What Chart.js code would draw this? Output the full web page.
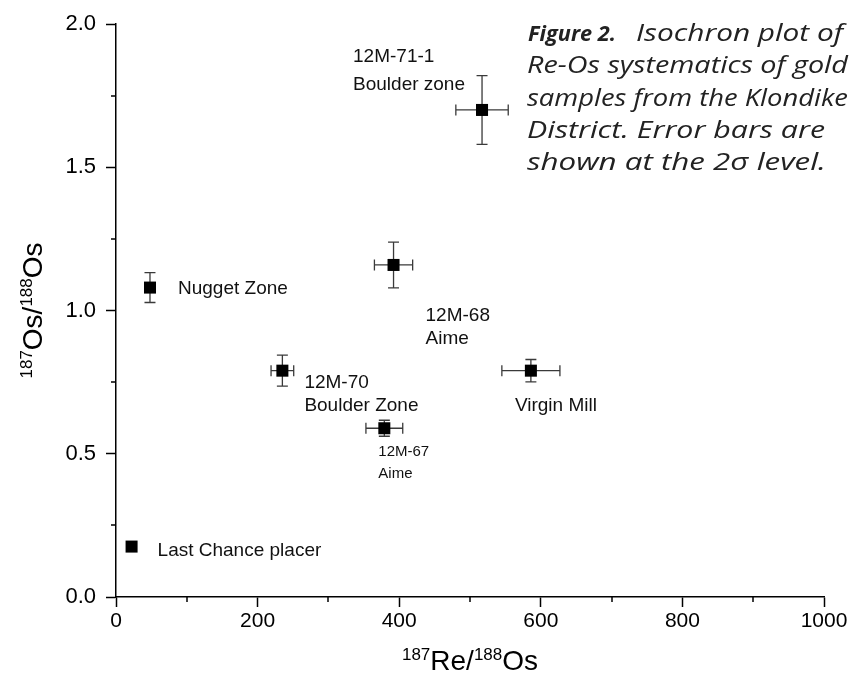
<!DOCTYPE html>
<html><head><meta charset="utf-8">
<script src="https://cdn.jsdelivr.net/npm/chart.js@4.4.0/dist/chart.umd.min.js"></script>
<style>
html,body{margin:0;padding:0;background:#fff;}
#wrap{position:relative;width:853px;height:689px;overflow:hidden;}
#c{position:absolute;left:0;top:0;}
#caption{position:absolute;left:0;top:16px;width:853px;font-family:"Open Sans",sans-serif;font-style:italic;font-size:24px;line-height:32.3px;color:#222;white-space:nowrap;}
#caption .ln{position:relative;height:32.3px;}
#caption .pc{position:absolute;top:0;display:inline-block;transform-origin:0 50%;}
#caption .bd{font-weight:700;font-size:22px;}
</style></head><body>
<div id="wrap"><canvas id="c" width="853" height="689" style="width:853px;height:689px"></canvas>
<div id="caption">
<div class="ln"><span class="pc bd" data-l="528" data-w="88">Figure 2.</span><span class="pc" data-l="636" data-w="207">Isochron plot of</span></div>
<div class="ln"><span class="pc" data-l="527" data-w="321">Re-Os systematics of gold</span></div>
<div class="ln"><span class="pc" data-l="527" data-w="321">samples from the Klondike</span></div>
<div class="ln"><span class="pc" data-l="527" data-w="298">District. Error bars are</span></div>
<div class="ln"><span class="pc" data-l="527" data-w="299">shown at the 2σ level.</span></div>
</div></div>
<script>
// ---- data ----
const samples = ['Last Chance placer','Nugget Zone','12M-70','12M-67','12M-68','12M-71-1','Virgin Mill'];
const reOs    = [22, 48, 235, 379, 392, 517, 586];                 // 187Re/188Os
const osOs    = [0.176, 1.080, 0.790, 0.589, 1.159, 1.700, 0.790]; // 187Os/188Os
const reErr   = [0, 0, 16, 26, 27, 37, 41];                        // 2σ on x
const osErr   = [0, 0.052, 0.054, 0.028, 0.080, 0.120, 0.039];     // 2σ on y
const labelLines = [
  ['Last Chance placer'],
  ['Nugget Zone'],
  ['12M-70','Boulder Zone'],
  ['12M-67','Aime'],
  ['12M-68','Aime'],
  ['12M-71-1','Boulder zone'],
  ['Virgin Mill']
];
const xTicks = [0,200,400,600,800,1000];
const yTicks = [0.0,0.5,1.0,1.5,2.0];
const xMinor = [100,300,500,700,900];
const yMinor = [0.25,0.75,1.25,1.75];

// ---- styles ----
const FONT = '"Liberation Sans", Arial, sans-serif';
const labelStyle = [
  {dx:26, dy:4,  size:19, lh:23},
  {dx:28, dy:1,  size:19, lh:23},
  {dx:22, dy:12, size:19, lh:23},
  {dx:-6, dy:24, size:15, lh:22},
  {dx:32, dy:51, size:19, lh:23},
  {dx:-129, dy:-53, size:19, lh:28},
  {dx:-16, dy:35, size:19, lh:23}
];

// fit caption pieces to their extents in the reference
document.querySelectorAll('#caption .pc').forEach(el=>{
  const w = el.getBoundingClientRect().width;
  el.style.left = el.dataset.l + 'px';
  el.style.transform = 'scaleX(' + (Number(el.dataset.w) / w).toFixed(4) + ')';
});

const points = reOs.map((v,i)=>({x:v, y:osOs[i]}));

const errorBars = {
  id:'errorBars',
  beforeDatasetsDraw(chart){
    const {ctx, scales:{x, y}} = chart;
    ctx.save();
    ctx.strokeStyle = '#3a3a3a';
    ctx.lineWidth = 1.3;
    const cap = 5.5;
    for (let i=0;i<reOs.length;i++){
      const px = x.getPixelForValue(reOs[i]);
      const py = y.getPixelForValue(osOs[i]);
      ctx.beginPath();
      if (osErr[i] > 0){
        const t = y.getPixelForValue(osOs[i]+osErr[i]);
        const b = y.getPixelForValue(osOs[i]-osErr[i]);
        ctx.moveTo(px, t); ctx.lineTo(px, b);
        ctx.moveTo(px-cap, t); ctx.lineTo(px+cap, t);
        ctx.moveTo(px-cap, b); ctx.lineTo(px+cap, b);
      }
      if (reErr[i] > 0){
        const l = x.getPixelForValue(reOs[i]-reErr[i]);
        const r = x.getPixelForValue(reOs[i]+reErr[i]);
        ctx.moveTo(l, py); ctx.lineTo(r, py);
        ctx.moveTo(l, py-cap); ctx.lineTo(l, py+cap);
        ctx.moveTo(r, py-cap); ctx.lineTo(r, py+cap);
      }
      ctx.stroke();
    }
    ctx.restore();
  }
};

const pointLabels = {
  id:'pointLabels',
  afterDatasetsDraw(chart){
    const {ctx, scales:{x, y}} = chart;
    ctx.save();
    ctx.fillStyle = '#111';
    ctx.textAlign = 'left';
    ctx.textBaseline = 'middle';
    for (let i=0;i<samples.length;i++){
      const st = labelStyle[i];
      const px = x.getPixelForValue(reOs[i]);
      const py = y.getPixelForValue(osOs[i]);
      ctx.font = st.size + 'px ' + FONT;
      labelLines[i].forEach((t,k)=>{
        ctx.fillText(t, px+st.dx, py+st.dy+k*st.lh);
      });
    }
    ctx.restore();
  }
};

function drawSup(ctx, parts, bigSize, supSize, supRise){
  let w = 0;
  parts.forEach(p=>{
    ctx.font = (p.sup?supSize:bigSize)+'px '+FONT;
    p.w = ctx.measureText(p.t).width; w += p.w;
  });
  let cx = -w/2;
  parts.forEach(p=>{
    ctx.font = (p.sup?supSize:bigSize)+'px '+FONT;
    ctx.fillText(p.t, cx, p.sup ? -supRise : 0);
    cx += p.w;
  });
}

const axisExtras = {
  id:'axisExtras',
  afterDraw(chart){
    const {ctx, scales:{x, y}, chartArea} = chart;
    ctx.save();
    ctx.strokeStyle = '#000';
    ctx.lineWidth = 1.5;
    ctx.beginPath();
    xMinor.forEach(v=>{
      const px = Math.round(x.getPixelForValue(v));
      ctx.moveTo(px, chartArea.bottom); ctx.lineTo(px, chartArea.bottom+5);
    });
    yMinor.forEach(v=>{
      const py = Math.round(y.getPixelForValue(v));
      ctx.moveTo(chartArea.left, py); ctx.lineTo(chartArea.left-5, py);
    });
    ctx.stroke();

    ctx.fillStyle = '#000';
    ctx.textBaseline = 'alphabetic';
    ctx.textAlign = 'left';
    ctx.save();
    ctx.translate((chartArea.left+chartArea.right)/2, 670);
    drawSup(ctx, [{t:'187',sup:true},{t:'Re/',sup:false},{t:'188',sup:true},{t:'Os',sup:false}], 28, 17, 10);
    ctx.restore();
    ctx.save();
    ctx.translate(42, (chartArea.top+chartArea.bottom)/2);
    ctx.rotate(-Math.PI/2);
    drawSup(ctx, [{t:'187',sup:true},{t:'Os/',sup:false},{t:'188',sup:true},{t:'Os',sup:false}], 28, 17, 10);
    ctx.restore();
    ctx.restore();
  }
};

new Chart(document.getElementById('c'), {
  type:'scatter',
  data:{ datasets:[{
    label:'Samples',
    data: points,
    pointStyle:'rect',
    pointRadius:8.5,
    pointHoverRadius:8.5,
    backgroundColor:'#000',
    borderColor:'#000',
    borderWidth:0
  }]},
  options:{
    responsive:false,
    animation:false,
    devicePixelRatio:1,
    layout:{padding:{left:0,right:29,top:24,bottom:0}},
    plugins:{legend:{display:false}, tooltip:{enabled:false}},
    scales:{
      x:{
        type:'linear', min:0, max:1000,
        afterBuildTicks:(s)=>{ s.ticks = xTicks.map(v=>({value:v})); },
        ticks:{font:{family:FONT,size:21}, color:'#000', padding:2, maxRotation:0, autoSkip:false,
               callback:(v)=>String(v)},
        grid:{drawOnChartArea:false, drawTicks:true, tickLength:10, tickColor:'#000', tickWidth:1.5},
        border:{display:true, color:'#000', width:1.5},
        afterFit:(s)=>{ s.height = 92; }
      },
      y:{
        type:'linear', min:0, max:2,
        afterBuildTicks:(s)=>{ s.ticks = yTicks.map(v=>({value:v})); },
        ticks:{font:{family:FONT,size:22}, color:'#000', padding:10, autoSkip:false,
               callback:(v)=>Number(v).toFixed(1)},
        grid:{drawOnChartArea:false, drawTicks:true, tickLength:10, tickColor:'#000', tickWidth:1.5},
        border:{display:true, color:'#000', width:1.5},
        afterFit:(s)=>{ s.width = 116; }
      }
    }
  },
  plugins:[errorBars, pointLabels, axisExtras]
});
</script>
</body></html>
